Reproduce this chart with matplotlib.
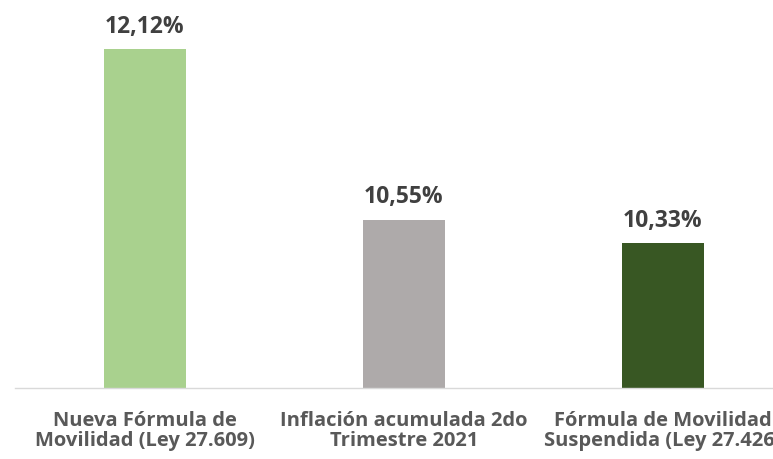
import matplotlib
matplotlib.use('Agg')
import matplotlib.pyplot as plt

# Chart data
categories = ['Nueva Fórmula de\nMovilidad (Ley 27.609)',
              'Inflación acumulada 2do\nTrimestre 2021',
              'Fórmula de Movilidad\nSuspendida (Ley 27.426)']
values = [12.12, 10.55, 10.33]
labels = ['12,12%', '10,55%', '10,33%']
colors = ['#A9D18E', '#AEAAAA', '#385723']

plt.rcParams['font.family'] = ['Open Sans', 'DejaVu Sans']

fig = plt.figure(figsize=(7.73, 4.6), dpi=100)
# axes run past the right edge, like the cropped original
ax = fig.add_axes([15 / 773, 71 / 460, 777.5 / 773, 389 / 460])

x = range(len(categories))
ax.bar(x, values, width=0.317, color=colors)
ax.set_xlim(-0.5, 2.5)
ax.set_ylim(9, 12.58)

for i, (v, lab) in enumerate(zip(values, labels)):
    ax.annotate(lab, (i, v), xytext=(0, 8), textcoords='offset points',
                ha='center', va='bottom', fontsize=16.5, fontweight='bold',
                color='#404040')

ax.set_xticks(list(x))
ax.set_xticklabels(categories, fontsize=14.5, fontweight='bold',
                   color='#595959', linespacing=1.0)
ax.tick_params(axis='x', length=0, pad=16)
ax.set_yticks([])
for s in ['top', 'right', 'left']:
    ax.spines[s].set_visible(False)
ax.spines['bottom'].set_color('#D9D9D9')
ax.spines['bottom'].set_linewidth(1)

fig.savefig('out.png', dpi=100)
